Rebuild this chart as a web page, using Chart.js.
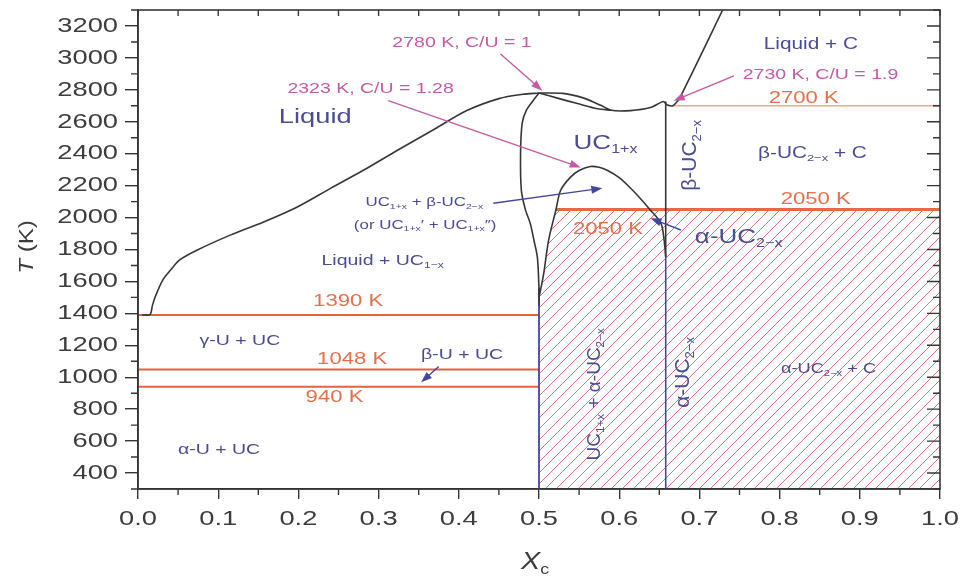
<!DOCTYPE html>
<html>
<head>
<meta charset="utf-8">
<script src="https://cdn.jsdelivr.net/npm/chart.js@4.4.0/dist/chart.umd.min.js"></script>
<style>
  html, body { margin: 0; background: #fff; }
  #wrap { width: 961px; height: 578px; }
</style>
</head>
<body>
<div id="wrap"><canvas id="phaseChart"></canvas></div>
<script>
// ticks
var xTicks = [0, 0.1, 0.2, 0.3, 0.4, 0.5, 0.6, 0.7, 0.8, 0.9, 1.0];
var yTicks = [400, 600, 800, 1000, 1200, 1400, 1600, 1800, 2000, 2200, 2400, 2600, 2800, 3000, 3200];

// phase boundaries, [X_C, T(K)]
var liquidusLeft = [[0.005, 1390], [0.015, 1393], [0.018, 1450], [0.022, 1510], [0.031, 1610], [0.042, 1680],
  [0.052, 1735], [0.074, 1797], [0.115, 1890], [0.156, 1971], [0.198, 2065], [0.24, 2183], [0.281, 2296],
  [0.323, 2420], [0.37, 2555], [0.41, 2670], [0.45, 2745], [0.48, 2772], [0.5, 2780]];
var liquidusRight = [[0.5, 2780], [0.53, 2778], [0.556, 2748], [0.577, 2703], [0.59, 2672], [0.614, 2670],
  [0.639, 2689], [0.655, 2727], [0.66, 2705], [0.667, 2700], [0.675, 2745], [0.729, 3300]];
var solidusUC = [[0.5, 2780], [0.523, 2748], [0.548, 2714], [0.573, 2682], [0.59, 2672]];
var ucLeftEdge = [[0.5, 2780], [0.493, 2735], [0.484, 2670], [0.479, 2590], [0.477, 2400], [0.478, 2170],
  [0.483, 2050], [0.489, 1965], [0.494, 1850], [0.498, 1750], [0.5, 1550], [0.5, 1450]];
var dome = [[0.5, 1500], [0.502, 1547], [0.506, 1653], [0.512, 1859], [0.521, 2046], [0.527, 2171],
  [0.539, 2252], [0.55, 2295], [0.564, 2320], [0.575, 2315], [0.585, 2296], [0.6, 2250], [0.614, 2185],
  [0.628, 2110], [0.639, 2046], [0.652, 1965], [0.656, 1859], [0.658, 1753]];
var betaEdge = [[0.658, 2727], [0.658, 1760]];
var blueEdgeUC = [[0.5, 300], [0.5, 1560]];
var blueEdgeUC2 = [[0.658, 300], [0.658, 1760]];
var hatchEdge = [[0.5, 300], [0.5, 1500], [0.502, 1547], [0.506, 1653], [0.512, 1859], [0.521, 2050], [1.0, 2050]];

// isotherms
var isoTemps = [1390, 1048, 940, 2050, 2700];
var isoFrom = [0, 0, 0, 0.521, 0.668];
var isoTo = [0.5, 0.5, 0.5, 1.0, 1.0];

var INK = '#363636';
var RED = '#e0643f';
var BLUE = '#46469e';
var TXT = '#4c4c94';
var MAG = '#c45aa2';
var ORG = '#e4714c';

// region / temperature labels: text, X_C, T, size, colour, rotated
var labels = [
  ['Liquid', 0.221, 2626, 21, TXT, 0],
  ['2780 K, C/U = 1', 0.404, 3094, 15, MAG, 0],
  ['2323 K, C/U = 1.28', 0.290, 2807, 15, MAG, 0],
  ['2730 K, C/U = 1.9', 0.851, 2894, 15, MAG, 0],
  ['Liquid + C', 0.839, 3082, 16, TXT, 0],
  ['2700 K', 0.830, 2745, 17, ORG, 0],
  ['UC_{1+x}', 0.583, 2464, 20, TXT, 0],
  ['β-UC_{2−x}', 0.689, 2389, 21, TXT, 1],
  ['β-UC_{2−x} + C', 0.841, 2402, 16, TXT, 0],
  ['2050 K', 0.845, 2115, 17, ORG, 0],
  ['2050 K', 0.586, 1928, 17, ORG, 0],
  ['α-UC_{2−x}', 0.749, 1878, 20, TXT, 0],
  ['UC_{1+x} + β-UC_{2−x}', 0.357, 2096, 13, TXT, 0],
  ['(or UC_{1+x}′ + UC_{1+x}″)', 0.358, 1953, 13, TXT, 0],
  ['Liquid + UC_{1−x}', 0.305, 1728, 15, TXT, 0],
  ['1390 K', 0.262, 1473, 17, ORG, 0],
  ['γ-U + UC', 0.127, 1229, 15, TXT, 0],
  ['1048 K', 0.267, 1111, 17, ORG, 0],
  ['β-U + UC', 0.404, 1142, 15, TXT, 0],
  ['940 K', 0.245, 874, 17, ORG, 0],
  ['α-U + UC', 0.101, 543, 15, TXT, 0],
  ['UC_{1+x} + α-UC_{2−x}', 0.569, 893, 19, TXT, 1],
  ['α-UC_{2−x}', 0.680, 1030, 21, TXT, 1],
  ['α-UC_{2−x} + C', 0.861, 1049, 14, TXT, 0]
];

// arrows: from (X_C, T) to (X_C, T)
var arrows = [
  [0.452, 3025, 0.504, 2795, MAG],
  [0.312, 2732, 0.552, 2314, MAG],
  [0.743, 2888, 0.668, 2732, MAG],
  [0.443, 2090, 0.579, 2184, BLUE],
  [0.677, 1922, 0.639, 1996, BLUE],
  [0.375, 1067, 0.353, 968, BLUE]
];

function pts(arr) {
  return arr.map(function (p) { return { x: p[0], y: p[1] }; });
}

function makeHatch() {
  var s = 11;
  var c = document.createElement('canvas');
  c.width = s; c.height = s;
  var g = c.getContext('2d');
  g.strokeStyle = 'rgba(205,80,95,0.8)';
  g.lineWidth = 1;
  g.beginPath();
  g.moveTo(0, s); g.lineTo(s, 0);
  g.moveTo(-1, 1); g.lineTo(1, -1);
  g.moveTo(s - 1, s + 1); g.lineTo(s + 1, s - 1);
  g.stroke();
  return g.createPattern(c, 'repeat');
}

var FONT = '"Liberation Sans", Arial, sans-serif';

// text like 'UC_{1+x}' -> runs with subscripts
function parseRuns(str) {
  var out = [];
  var re = /_\{([^}]*)\}/g, last = 0, m;
  while ((m = re.exec(str)) !== null) {
    if (m.index > last) out.push([str.slice(last, m.index), 0]);
    out.push([m[1], 1]);
    last = re.lastIndex;
  }
  if (last < str.length) out.push([str.slice(last), 0]);
  return out;
}

function drawRuns(ctx, runs, size, color, x, y, rot, sx) {
  ctx.save();
  ctx.translate(x, y);
  if (rot) ctx.rotate(-Math.PI / 2);
  ctx.scale(sx, 1);
  var total = 0;
  runs.forEach(function (r) {
    var s = r[1] === 1 ? size * 0.62 : size;
    ctx.font = (r[1] === 2 ? 'italic ' : '') + s + 'px ' + FONT;
    total += ctx.measureText(r[0]).width;
  });
  var cx = -total / 2;
  ctx.fillStyle = color;
  ctx.textBaseline = 'middle';
  ctx.textAlign = 'left';
  runs.forEach(function (r) {
    var s = r[1] === 1 ? size * 0.62 : size;
    ctx.font = (r[1] === 2 ? 'italic ' : '') + s + 'px ' + FONT;
    ctx.fillText(r[0], cx, r[1] === 1 ? size * 0.32 : 0);
    cx += ctx.measureText(r[0]).width;
  });
  ctx.restore();
}

var decor = {
  id: 'decor',
  afterDraw: function (chart) {
    var ctx = chart.ctx;
    var xs = chart.scales.x, ys = chart.scales.y;
    var a = chart.chartArea;
    ctx.save();

    // frame
    ctx.strokeStyle = INK;
    ctx.lineWidth = 1.6;
    ctx.strokeRect(a.left, a.top, a.right - a.left, a.bottom - a.top);

    // minor and mirrored ticks
    ctx.lineWidth = 1.4;
    ctx.beginPath();
    for (var t = 300; t <= 3300; t += 100) {
      var py = ys.getPixelForValue(t);
      var major = t % 200 === 0;
      if (!major) { ctx.moveTo(a.left - 7, py); ctx.lineTo(a.left, py); }
      ctx.moveTo(a.right, py); ctx.lineTo(a.right - (major ? 13 : 7), py);
    }
    for (var i = 0; i <= 20; i++) {
      var px = xs.getPixelForValue(i * 0.05);
      if (i % 2) { ctx.moveTo(px, a.bottom); ctx.lineTo(px, a.bottom + 6); }
      ctx.moveTo(px, a.top); ctx.lineTo(px, a.top + 6);
    }
    ctx.stroke();

    // tick labels
    ctx.fillStyle = '#3c3c3c';
    ctx.textBaseline = 'middle';
    ctx.font = '21px ' + FONT;
    yTicks.forEach(function (v) {
      ctx.save();
      ctx.translate(a.left - 20, ys.getPixelForValue(v));
      ctx.scale(1.3, 1);
      ctx.textAlign = 'right';
      ctx.fillText(String(v), 0, 0);
      ctx.restore();
    });
    xTicks.forEach(function (v) {
      ctx.save();
      ctx.translate(xs.getPixelForValue(v), a.bottom + 30);
      ctx.scale(1.3, 1);
      ctx.textAlign = 'center';
      ctx.fillText(v.toFixed(1), 0, 0);
      ctx.restore();
    });

    // axis titles
    drawRuns(ctx, [['T', 2], [' (K)', 0]], 21, '#3c3c3c', 27, 247, 1, 1.15);
    drawRuns(ctx, [['X', 2], ['c', 1]], 24, '#3c3c3c', 535, 562, 0, 1.2);

    // arrows
    arrows.forEach(function (ar) {
      var x0 = xs.getPixelForValue(ar[0]), y0 = ys.getPixelForValue(ar[1]);
      var x1 = xs.getPixelForValue(ar[2]), y1 = ys.getPixelForValue(ar[3]);
      var ang = Math.atan2(y1 - y0, x1 - x0);
      var L = 11, W = 4;
      ctx.strokeStyle = ar[4];
      ctx.fillStyle = ar[4];
      ctx.lineWidth = 1.4;
      ctx.beginPath();
      ctx.moveTo(x0, y0);
      ctx.lineTo(x1 - Math.cos(ang) * L * 0.8, y1 - Math.sin(ang) * L * 0.8);
      ctx.stroke();
      ctx.beginPath();
      ctx.moveTo(x1, y1);
      ctx.lineTo(x1 - Math.cos(ang) * L - Math.sin(ang) * W, y1 - Math.sin(ang) * L + Math.cos(ang) * W);
      ctx.lineTo(x1 - Math.cos(ang) * L + Math.sin(ang) * W, y1 - Math.sin(ang) * L - Math.cos(ang) * W);
      ctx.closePath();
      ctx.fill();
    });

    // region labels
    labels.forEach(function (lb) {
      drawRuns(ctx, parseRuns(lb[0]), lb[3], lb[4],
        xs.getPixelForValue(lb[1]), ys.getPixelForValue(lb[2]), lb[5], lb[5] ? 1 : 1.3);
    });
    ctx.restore();
  }
};

function curve(arr, color, width, tension) {
  return {
    data: pts(arr),
    borderColor: color,
    borderWidth: width,
    pointRadius: 0,
    fill: false,
    tension: tension || 0
  };
}

var datasets = [
  curve(liquidusLeft, INK, 1.6, 0.3),
  curve(liquidusRight, INK, 1.6, 0.2),
  curve(solidusUC, INK, 1.6, 0.3),
  curve(ucLeftEdge, INK, 1.6, 0.3),
  curve(dome, INK, 1.6, 0.3),
  curve(betaEdge, INK, 1.6, 0),
  curve(blueEdgeUC, BLUE, 1.8, 0),
  curve(blueEdgeUC2, BLUE, 1.6, 0)
];
var isoStyle = [[RED, 2], [RED, 2], [RED, 2], ['#e36a45', 3], ['#f0a888', 1.5]];
isoTemps.forEach(function (t, i) {
  datasets.push(curve([[isoFrom[i], t], [isoTo[i], t]], isoStyle[i][0], isoStyle[i][1], 0));
});
datasets.push({
  data: pts(hatchEdge),
  borderColor: 'rgba(0,0,0,0)',
  borderWidth: 1,
  pointRadius: 0,
  fill: 'start',
  backgroundColor: makeHatch(),
  tension: 0
});

var ctx = document.getElementById('phaseChart').getContext('2d');
new Chart(ctx, {
  type: 'line',
  data: { datasets: datasets },
  options: {
    responsive: true,
    maintainAspectRatio: false,
    animation: false,
    layout: { padding: { left: 0, top: 10, right: 21, bottom: 0 } },
    plugins: { legend: { display: false }, tooltip: { enabled: false } },
    scales: {
      x: {
        type: 'linear', min: 0, max: 1,
        afterBuildTicks: function (s) { s.ticks = xTicks.map(function (v) { return { value: v }; }); },
        afterFit: function (s) { s.height = 89; },
        ticks: { display: false },
        grid: { drawOnChartArea: false, tickLength: 10, color: INK, lineWidth: 1.4 },
        border: { display: true, color: INK, width: 1.6 }
      },
      y: {
        type: 'linear', min: 300, max: 3300,
        afterBuildTicks: function (s) { s.ticks = yTicks.map(function (v) { return { value: v }; }); },
        afterFit: function (s) { s.width = 138; },
        ticks: { display: false },
        grid: { drawOnChartArea: false, tickLength: 13, color: INK, lineWidth: 1.4 },
        border: { display: true, color: INK, width: 1.6 }
      }
    }
  },
  plugins: [decor]
});
</script>
</body>
</html>
